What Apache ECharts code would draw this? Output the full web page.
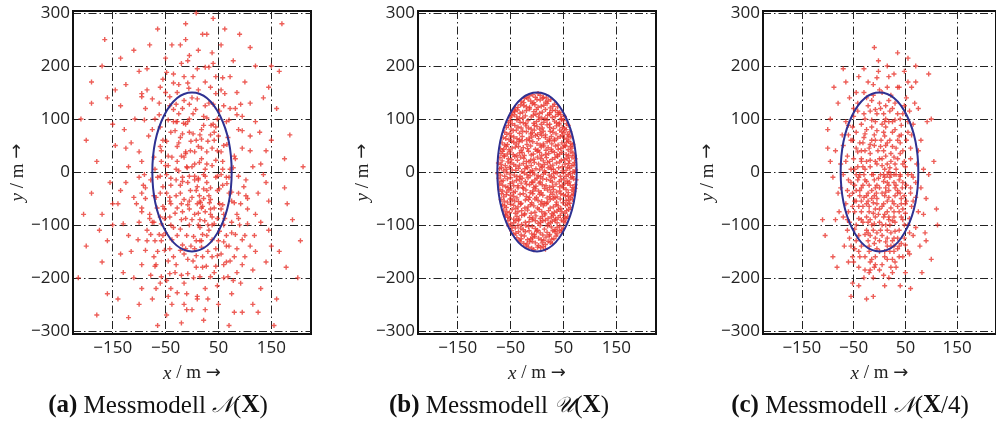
<!DOCTYPE html>
<html>
<head>
<meta charset="utf-8">
<script src="https://cdn.jsdelivr.net/npm/echarts@6/dist/echarts.min.js"></script>
<style>
html, body { margin: 0; padding: 0; background: #fff; }
#echart { width: 996px; height: 430px; }
</style>
</head>
<body>
<div id="echart"></div>
<script>
// tick labels
var xTicks = [-150, -50, 50, 150];
var yTicks = [-300, -200, -100, 0, 100, 200, 300];

// ellipse: centre x, centre y, half axis x, half axis y
var ellipse = [[0, 0, 75, 150]];

// (a) Messmodell N(X)
var pointsA = [
[-12,35],[48,-88],[-95,142],[20,260],[-60,-210],[110,40],[5,-15],[-30,95],[72,180],[-140,-60],
[15,-130],[-8,210],[88,-40],[-45,12],[160,120],[-20,-285],[35,70],[-110,230],[60,-175],[0,140],
[-75,-95],[25,5],[130,-220],[-55,60],[40,290],[-180,20],[10,-60],[95,105],[-35,-160],[65,-10],
[-5,75],[-125,165],[50,-250],[18,45],[-88,-30],[145,-110],[-15,180],[30,-100],[-65,270],[82,25],
[-200,-140],[3,-200],[55,155],[-42,-55],[120,200],[-25,110],[70,-140],[-100,-250],[28,-20],[-150,90],
[12,230],[-70,5],[105,-70],[-10,-120],[45,85],[-130,-190],[22,-280],[90,260],[-50,150],[60,50],
[-18,-10],[175,-30],[-85,195],[38,-160],[-3,40],[115,-250],[-40,-100],[8,300],[-115,55],[75,-95],
[-60,-40],[32,130],[-170,-80],[100,170],[-28,20],[48,-215],[-95,-175],[14,-45],[150,60],[-22,240],
[65,95],[-135,125],[0,-90],[85,-190],[-48,-270],[25,170],[-75,80],[130,15],[-10,-230],[55,-5],
[-190,170],[38,45],[-58,-130],[110,-140],[2,110],[-100,-10],[78,210],[-32,-190],[18,80],[140,-170],
[-45,30],[92,-60],[-8,-165],[60,125],[-120,-120],[28,260],[-68,-220],[5,15],[120,95],[-35,185],
[48,-35],[-155,-20],[15,-105],[80,-265],[-88,120],[35,-70],[-22,65],[165,190],[-60,-85],[10,195],
[-105,-60],[70,-10],[-15,135],[45,-145],[-80,240],[100,-120],[-30,-15],[22,105],[-140,-240],[58,20],
[-5,-55],[125,-40],[-50,215],[30,-240],[-95,20],[85,150],[-20,-90],[12,-15],[190,-90],[-72,-160],
[42,60],[-12,280],[65,-120],[-125,45],[20,-180],[-40,75],[110,235],[-65,-10],[0,-260],[135,-5],
[-30,-45],[52,115],[-160,140],[25,-75],[-85,-110],[75,-230],[-10,10],[95,45],[-48,-205],[38,225],
[-115,-150],[8,60],[60,-80],[-25,165],[150,-140],[-70,100],[18,-130],[-200,60],[88,80],[-38,-250],
[28,15],[-58,40],[115,-185],[-18,-75],[45,180],[-92,-25],[70,-40],[-2,-140],[-135,215],[102,-15],
[-42,125],[15,-55],[62,270],[-78,-195],[32,-110],[-108,100],[8,-35],[175,25],[-55,-65],[40,90],
[-20,30],[90,-100],[-150,-100],[12,155],[-65,-290],[55,-155],[-28,-120],[135,140],[-95,-75],[22,-5],
[-8,95],[78,-205],[-120,10],[48,40],[-38,240],[105,-50],[-72,-45],[2,180],[160,-240],[-30,-175],
[35,-30],[-85,155],[68,65],[-15,-210],[120,-80],[-48,-5],[25,125],[-170,-170],[85,-145],[-5,-100],
[52,-60],[-100,190],[10,-235],[-60,85],[95,-265],[-22,-40],[40,205],[-135,-35],[72,5],[-42,-145],
[18,25],[-80,-80],[128,75],[-12,250],[60,-100],[-110,-200],[30,-150],[-55,175],[145,-55],[-25,55],
[82,120],[-190,-40],[5,-80],[-45,-235],[58,-25],[-18,120],[100,-160],[-70,-130],[35,160],[-128,80],
[42,-190],[-8,-20],[115,10],[-62,130],[20,-65],[-95,-220],[75,-55],[-35,95],[150,200],[-15,-155],
[48,100],[-78,-15],[8,-180],[92,-210],[-52,-70],[25,-260],[-145,155],[65,-170],[-30,5],[110,130],
[-5,220],[-88,-50],[38,-85],[-120,-275],[80,30],[-20,-60],[55,240],[-68,-175],[15,70],[130,-95],
[-40,-25],[70,-290],[-160,-130],[28,-120],[-12,90],[95,-175],[-58,20],[5,-145],[-100,-95],[60,-200],
[-28,150],[118,-120],[-75,-240],[45,-10],[-10,-260],[85,-80],[-50,-115],[32,-45],[-135,-155],[178,-180],
[12,-100],[-65,-150],[50,-130],[-20,-195],[140,-20],[-90,-5],[25,-220],[-42,-85],[75,-115],[-5,-70],
[-3,-35],[18,62],[-40,-12],[33,-58],[7,118],[-58,-98],[45,22],[-22,-148],[62,148],[-9,8],
[27,-178],[-72,28],[52,-112],[-16,92],[88,-8],[-35,168],[12,-78],[-48,58],[70,98],[3,-122],
[-28,-68],[40,128],[-88,-148],[22,-32],[-6,158],[58,-62],[-62,108],[14,18],[-42,-192],[95,-128],
[-18,-18],[36,88],[-100,38],[8,-158],[66,-22],[-30,128],[24,-92],[-55,-28],[110,68],[-12,-88],
[48,-8],[-78,-118],[2,72],[32,198],[-45,98],[80,-58],[-8,-192],[18,-142],[-66,-68],[55,38],
[-25,2],[92,128],[-38,-128],[12,48],[-95,148],[42,-68],[-5,128],[68,-198],[-52,-148],[28,102],
[-15,-52],[78,8],[-82,68],[5,-8],[45,-178],[-32,78],[105,-98],[-60,-8],[16,-58],[-20,205],
[38,-128],[-110,-48],[62,-88],[-2,58],[-42,-48],[25,-8],[85,108],[-70,-178],[10,138],[50,68],
[-28,48],[-130,-98],[35,-198],[-12,38],[72,-168],[-48,188],[20,-118],[-90,98],[0,-48],[58,178],
[-38,28],[15,-198],[98,-28],[-62,-118],[30,58],[-18,-138],[120,-150],[-75,138],[42,-98],[-5,-8],
[66,52],[-52,-88],[22,88],[-95,-68],[10,-28],[-35,118],[48,-158],[-22,-108],[82,-118],[-8,168],
[-58,-198],[38,12],[-125,-20],[18,-68],[-42,142],[75,-38],[2,-168],[-68,-48],[28,38],[-18,72],
[52,-32],[-102,-128],[12,-12],[-32,-78],[95,78],[-50,12],[35,-52],[-8,-62],[60,-132],[-80,-88],
[25,198],[-28,-228],[5,38],[-45,-168],[88,-88],[-15,28],[45,148],[-60,48],[140,40],[-150,-60],
[20,-160],[-5,100],[35,-80],[-40,-60],[72,120],[-22,-25],[10,-240],[-85,-130],[55,-70],[-12,-145],
[-35,-105],[28,-35],[-60,160],[80,-160],[0,10],[-48,-40],[42,75],[-28,95],[15,-90],[-72,-95],
[58,5],[-15,-250],[38,-100],[-95,-40],[8,-130],[102,-45],[-55,-120],[22,-50],[-40,-220],[65,-140],
[-175,-110],[185,70],[-210,100],[200,-200],[-165,250],[170,280],[-180,-270],[155,-290],[205,-130],[-215,-200],
[125,-265],[-145,50],[180,-60],[-190,130],[145,160],[-160,-230],[210,10],[-205,-80],[165,-150],[-170,200]
];

// (b) Messmodell U(X)
var pointsB = [
[-71,6],[-63,2],[-52,9],[-47,4],[-35,7],[-29,1],[-18,8],[-9,3],[-2,6],[10,9],[14,2],[27,5],[35,0],[41,8],[55,3],[62,7],[73,4],
[-73,17],[-60,12],[-55,19],[-44,14],[-40,11],[-26,16],[-15,19],[-11,12],[3,15],[8,11],[20,18],[30,13],[37,17],[48,10],[53,15],[66,12],[71,18],
[-70,27],[-66,21],[-54,25],[-42,29],[-37,22],[-25,26],[-20,20],[-6,24],[1,28],[12,21],[18,27],[29,24],[39,29],[46,22],[57,26],[61,21],[72,25],
[-68,35],[-62,31],[-51,38],[-45,33],[-33,36],[-24,31],[-16,39],[-7,34],[5,37],[9,31],[22,35],[28,39],[38,32],[47,37],[55,33],[64,38],[71,31],
[-69,44],[-58,48],[-53,42],[-41,47],[-30,41],[-26,46],[-12,49],[-3,43],[8,47],[17,41],[21,46],[35,49],[40,43],[50,47],[59,42],[66,45],
[-66,55],[-61,51],[-48,58],[-39,53],[-34,57],[-19,52],[-14,59],[0,54],[6,51],[19,57],[28,53],[33,59],[47,55],[52,50],[60,58],[68,52],
[-64,65],[-53,61],[-49,68],[-38,63],[-28,67],[-20,61],[-10,66],[3,63],[9,69],[23,62],[27,67],[39,64],[48,69],[57,62],[64,66],
[-61,75],[-57,71],[-45,78],[-33,73],[-27,77],[-12,72],[-5,79],[7,74],[16,70],[25,77],[36,72],[43,79],[51,74],[58,71],[62,76],
[-58,84],[-49,81],[-42,88],[-30,83],[-21,87],[-11,81],[0,86],[10,83],[19,89],[31,82],[37,87],[48,84],[55,80],[59,88],
[-54,94],[-47,91],[-38,98],[-26,93],[-17,97],[-6,92],[4,99],[13,94],[24,90],[33,96],[42,92],[50,97],[56,91],
[-51,103],[-43,108],[-33,101],[-22,106],[-11,104],[-2,109],[9,102],[20,107],[29,103],[40,109],[46,101],[52,105],
[-47,112],[-37,117],[-27,113],[-14,119],[-6,114],[5,111],[16,118],[24,112],[35,116],[43,113],[-42,114],
[-41,121],[-31,127],[-20,123],[-9,129],[2,122],[13,126],[25,121],[33,128],[39,123],
[-29,133],[-17,138],[-6,131],[6,136],[16,132],[26,137],[-24,139],
[-14,144],[2,148],[12,141],[-3,141],
[-74,-3],[-61,-8],[-57,-1],[-43,-6],[-38,-9],[-24,-2],[-13,-7],[-5,-4],[7,-9],[16,-1],[23,-6],[31,-3],[44,-8],[50,-2],[59,-5],[67,-9],[71,-1],
[-72,-12],[-64,-16],[-50,-11],[-46,-19],[-33,-14],[-22,-18],[-17,-11],[-4,-15],[6,-19],[11,-13],[25,-16],[33,-11],[42,-18],[51,-13],[57,-17],[64,-11],[74,-15],
[-71,-23],[-59,-28],[-51,-22],[-44,-26],[-30,-21],[-27,-29],[-14,-24],[-2,-27],[4,-21],[17,-26],[24,-29],[36,-23],[43,-28],[53,-21],[63,-25],[68,-29],[-8,-20],
[-70,-33],[-57,-38],[-49,-32],[-41,-37],[-36,-30],[-21,-34],[-13,-39],[-3,-32],[3,-36],[14,-31],[26,-38],[31,-33],[43,-36],[50,-30],[59,-39],[66,-34],[72,-31],
[-67,-41],[-63,-47],[-50,-44],[-38,-49],[-32,-42],[-20,-46],[-8,-41],[-1,-48],[11,-44],[19,-49],[30,-42],[38,-47],[45,-41],[54,-45],[63,-49],[69,-42],
[-68,-52],[-56,-57],[-51,-51],[-42,-55],[-30,-59],[-22,-53],[-10,-58],[-4,-51],[9,-56],[14,-59],[25,-52],[37,-57],[44,-51],[55,-54],[62,-59],[67,-52],
[-65,-62],[-58,-67],[-44,-63],[-40,-69],[-31,-61],[-17,-66],[-12,-62],[1,-68],[12,-64],[18,-60],[31,-66],[36,-62],[45,-69],[54,-63],[63,-67],
[-63,-72],[-52,-77],[-47,-71],[-36,-75],[-23,-79],[-18,-72],[-4,-76],[4,-71],[15,-78],[22,-73],[33,-76],[41,-71],[53,-78],[56,-73],[-60,-80],
[-59,-82],[-52,-87],[-38,-84],[-34,-89],[-24,-81],[-14,-86],[-2,-83],[6,-88],[15,-81],[27,-85],[35,-89],[44,-82],[52,-86],[58,-84],
[-55,-92],[-44,-96],[-35,-91],[-29,-99],[-15,-94],[-9,-90],[2,-97],[11,-92],[21,-98],[29,-93],[38,-96],[46,-91],[53,-95],
[-53,-102],[-41,-106],[-36,-101],[-26,-109],[-16,-103],[-3,-107],[6,-101],[14,-108],[27,-104],[34,-109],[43,-102],[50,-106],
[-48,-111],[-40,-116],[-30,-119],[-22,-113],[-10,-117],[-1,-112],[11,-119],[19,-114],[30,-111],[38,-117],[46,-114],
[-38,-124],[-34,-129],[-24,-121],[-12,-126],[-4,-122],[8,-128],[17,-123],[28,-127],[36,-121],
[-31,-132],[-19,-136],[-9,-131],[3,-139],[10,-134],[21,-131],[29,-135],
[-16,-142],[-6,-147],[7,-143],[16,-146],
[-67,8],[-58,5],[-40,3],[-23,6],[-13,1],[5,4],[21,8],[31,5],[48,2],[58,9],[68,1],
[-68,14],[-50,17],[-33,13],[-20,11],[-5,18],[14,14],[25,11],[43,19],[60,16],[70,13],
[-62,29],[-48,23],[-31,28],[-12,22],[7,25],[24,20],[34,27],[52,23],[66,28],
[-65,39],[-56,34],[-38,31],[-28,37],[-11,32],[0,39],[16,33],[33,37],[43,34],[60,31],[68,36],
[-63,43],[-47,45],[-35,48],[-18,44],[2,41],[13,49],[27,43],[45,44],[54,49],[63,48],
[-56,52],[-44,56],[-28,59],[-8,57],[12,53],[24,59],[40,51],[56,56],[64,54],
[-59,63],[-44,66],[-33,61],[-15,64],[-3,69],[16,65],[33,62],[44,67],[52,64],[60,68],
[-51,73],[-39,79],[-20,76],[1,71],[12,77],[30,75],[47,76],[-9,74],
[-54,88],[-36,85],[-16,83],[-5,88],[5,81],[24,84],[42,89],[52,82],
[-50,97],[-32,94],[-21,91],[-1,95],[8,90],[19,98],[37,93],[46,99],
[-48,106],[-38,104],[-27,102],[-7,107],[3,104],[15,101],[24,109],[35,105],[45,108],
[-43,116],[-32,111],[-20,116],[-1,118],[10,113],[29,116],[40,112],
[-36,122],[-25,125],[-14,122],[-4,127],[8,124],[19,129],[30,124],
[-25,131],[-12,134],[0,137],[11,139],[21,134],
[-8,146],[6,145],[-20,141],[18,140],
[-69,-6],[-51,-4],[-32,-8],[-19,-5],[-8,-1],[2,-7],[12,-4],[27,-9],[38,-2],[55,-8],[63,-3],
[-68,-18],[-56,-13],[-39,-16],[-28,-12],[-10,-19],[0,-12],[18,-14],[29,-19],[46,-15],[61,-19],[69,-13],
[-65,-25],[-55,-29],[-36,-26],[-20,-23],[-6,-29],[10,-24],[30,-27],[48,-25],[58,-22],[72,-24],
[-65,-36],[-53,-34],[-45,-39],[-26,-31],[-8,-36],[8,-39],[20,-34],[37,-38],[55,-33],[70,-37],
[-58,-43],[-44,-46],[-26,-41],[-14,-48],[5,-42],[24,-46],[34,-48],[50,-43],[59,-46],[66,-44],
[-62,-55],[-47,-53],[-35,-56],[-16,-52],[2,-54],[20,-57],[31,-50],[49,-58],[60,-53],
[-61,-64],[-50,-61],[-36,-66],[-23,-68],[-6,-64],[7,-61],[25,-68],[40,-64],[58,-61],
[-57,-75],[-41,-78],[-29,-73],[-11,-78],[9,-75],[28,-79],[38,-74],[47,-75],[60,-71],
[-55,-85],[-44,-89],[-29,-82],[-8,-87],[10,-84],[21,-88],[31,-82],[40,-86],[55,-88],
[-50,-98],[-40,-92],[-22,-95],[-3,-92],[7,-95],[16,-91],[25,-96],[34,-91],[50,-93],
[-47,-104],[-31,-106],[-21,-101],[-9,-103],[1,-110],[20,-102],[38,-105],[47,-109],
[-44,-118],[-35,-113],[-15,-111],[-5,-118],[6,-115],[24,-118],[34,-113],[42,-111],
[-30,-126],[-18,-128],[-8,-124],[3,-125],[13,-129],[23,-121],[32,-126],
[-25,-135],[-14,-132],[-3,-134],[16,-137],[25,-133],
[-10,-144],[1,-142],[12,-141],[-21,-140]
];

// (c) Messmodell N(X/4)
var pointsC = [
[5,12],[-20,45],[30,-30],[-8,-70],[42,88],[15,-5],[-35,20],[60,-40],[0,130],[-12,-110],
[22,35],[-48,-55],[10,-150],[-28,100],[50,10],[-5,-25],[35,160],[-60,-15],[18,-85],[-15,60],
[75,40],[-40,-120],[8,75],[-22,-40],[28,-140],[-52,85],[45,-70],[2,-5],[-70,50],[20,115],
[-10,-180],[55,-100],[-30,-5],[12,30],[-45,150],[38,-15],[-18,-90],[65,90],[-2,190],[25,-55],
[-58,-95],[15,55],[-35,-30],[48,125],[-8,20],[32,-180],[-25,140],[70,-20],[5,-120],[-42,10],
[20,-10],[-15,85],[40,55],[-65,-60],[10,-45],[-28,-160],[55,170],[-3,40],[30,-95],[-50,120],
[85,5],[-20,-65],[12,100],[-38,-5],[42,-135],[-10,-15],[25,75],[-75,-30],[0,-95],[62,-65],
[-32,55],[18,-200],[-55,-140],[35,25],[-12,165],[48,-45],[-25,-110],[8,-60],[-45,75],[68,130],
[-6,-40],[28,-5],[-62,30],[15,-165],[-18,115],[52,60],[-35,-75],[3,60],[38,-110],[-85,-90],
[22,145],[-48,-25],[10,5],[-22,-130],[58,-155],[-8,95],[32,45],[-40,-180],[75,-75],[0,25],
[-28,40],[45,-20],[-15,-50],[18,180],[-58,140],[28,-60],[-5,-145],[40,100],[-70,-5],[12,-30],
[-32,-95],[60,25],[-18,10],[22,-115],[-45,45],[5,150],[35,-40],[-52,-160],[90,-50],[-10,70],
[15,-75],[-38,-45],[50,-190],[-22,170],[30,15],[-65,95],[2,-110],[42,70],[-28,-15],[18,-25],
[-12,-200],[55,-5],[-42,115],[8,-85],[-80,-40],[25,95],[-5,-60],[38,-160],[-55,5],[65,-120],
[-18,35],[12,125],[-35,-140],[45,40],[0,-30],[-25,80],[28,-85],[-48,-75],[72,15],[-8,-125],
[20,60],[-30,-200],[35,-65],[-62,-110],[10,-10],[-15,135],[55,95],[-40,-10],[25,-130],[-2,210],
[-72,70],[42,-85],[-20,-25],[15,-55],[-50,25],[60,-30],[-10,50],[30,130],[-35,-55],[5,-175],
[48,-125],[-25,-85],[18,0],[-58,-45],[38,160],[-12,-5],[80,60],[-45,-100],[22,20],[-5,110],
[32,-25],[-68,-140],[8,40],[-30,65],[52,-55],[-15,-165],[25,-165],[-40,180],[65,-10],[0,-70],
[-22,-55],[40,-5],[-52,60],[12,85],[-8,-85],[58,115],[-35,25],[20,-100],[-75,15],[30,-45],
[-18,-120],[45,15],[-60,-75],[5,90],[35,-125],[-28,5],[15,-140],[-45,-35],[70,-105],[-5,15],
[100,-165],[-110,-90],[-55,-235],[40,-215],[-10,235],[55,215],[95,185],[-100,80],[85,-80],[-90,-10],
[78,-140],[-85,40],[105,20],[-95,100],[92,95],[-30,195],[-40,-215],[28,185],[-20,-190],[62,160],
[10,-215],[-65,170],[48,190],[-78,-75],[80,-30],[-12,-235],[15,200],[-60,-170],[70,170],[88,-115],
[8,-18],[-18,22],[25,48],[-30,-48],[12,-132],[-5,78],[40,-8],[-25,-18],[2,48],[18,-48],
[-42,38],[30,98],[-10,-98],[50,-78],[-35,90],[15,15],[-55,-20],[22,-68],[-8,118],[35,-145],
[-20,-75],[5,-40],[45,110],[-48,5],[28,28],[-12,-58],[60,45],[-28,-118],[10,68],[-40,-88],
[20,-150],[-2,-12],[38,68],[-60,88],[15,-110],[-22,125],[52,-25],[-15,-35],[28,-20],[-45,-130],
[0,155],[42,-50],[-32,-25],[10,95],[-55,60],[25,-92],[-8,-160],[65,-55],[-18,52],[5,-65],
[32,5],[-40,-150],[18,135],[-25,20],[48,-100],[-10,-45],[-62,-35],[22,-180],[-5,178],[40,35],
[-30,150],[12,-38],[-48,-108],[55,75],[-15,98],[30,-112],[0,-185],[-38,55],[20,8],[-22,-95],
[70,-48],[-52,-65],[8,110],[35,-35],[-18,-170],[45,-160],[-35,-90],[-8,-30],[25,120],[-65,20],
[15,-20],[-28,72],[50,-138],[-42,-15],[5,-100],[30,80],[-12,145],[58,-88],[-20,-140],[38,-75],
[-5,-115],[22,-5],[-50,105],[12,50],[-32,-65],[62,-5],[0,-150],[-45,-5],[28,-150],[-15,-5],
[42,-60],[-25,-45],[10,-80],[-58,-125],[35,60],[-8,-175],[18,95],[-38,-35],[48,20],[-2,-80],
[25,-190],[-60,70],[15,-125],[-30,110],[52,140],[-12,-78],[32,-5],[-48,-145],[8,-195],[-22,-115],
[40,-40],[-70,-85],[2,120],[28,-75],[-35,40],[18,-35],[-15,-100],[58,-115],[-42,130],[10,-160],
[-5,-50],[45,-90],[-25,-60],[30,-170],[-52,-40],[5,25],[38,-140],[-18,-185],[62,70],[-32,10],
[15,160],[-40,-65],[22,-140],[-8,60],[50,-60],[-28,-185],[12,-100],[-62,-90],[35,110],[0,-130],
[-20,-150],[44,-30],[-50,-170],[8,-5],[28,-125],[-38,-160],[18,-90],[-10,-135],[55,-150],[-45,-55],
[90,-130],[-90,-160],[75,120],[-80,130],[95,-5],[-100,45],[70,200],[-52,-210],[82,-190],[-70,195],
[110,-70],[-105,-120],[60,-220],[-25,-240],[35,225],[-82,-180],[100,100],[-95,20],[112,-100],[-88,160]
];

var captions = [
    '{b|(a)} Messmodell {s|𝒩}({b|X})',
    '{b|(b)} Messmodell {s|𝒰}({b|X})',
    '{b|(c)} Messmodell {s|𝒩}({b|X}/4)'
];

var myChart = echarts.init(document.getElementById('echart'));

var panelLeft = [73, 418, 763];
var captionX = [158, 499, 850];
var serif = 'Liberation Serif';
var plus = 'path://M1.8,0H3.2V1.8H5V3.2H3.2V5H1.8V3.2H0V1.8H1.8Z';
var allPoints = [pointsA, pointsB, pointsC];

var grids = [], xAxes = [], yAxes = [], series = [], graphics = [];
var minus = function (v) { return String(v).replace('-', '\u2212'); };
var gridLine = { show: true, lineStyle: { color: '#222', width: 1, type: [8, 3, 1.5, 3] } };
var nameStyle = {
    fontFamily: serif, fontSize: 19, color: '#222',
    rich: {
        i: { fontFamily: serif, fontSize: 19, fontStyle: 'italic', color: '#222' },
        a: { fontFamily: 'DejaVu Sans', fontSize: 18, color: '#222' }
    }
};

for (var i = 0; i < 3; i++) {
    grids.push({
        left: panelLeft[i], top: 11, width: 238, height: 323,
        show: true, borderColor: '#111', borderWidth: 2
    });
    xAxes.push({
        gridIndex: i, type: 'value', min: -225, max: 225,
        axisLine: { onZero: false, lineStyle: { color: '#111', width: 2 } },
        axisTick: { show: false, customValues: xTicks },
        axisLabel: { customValues: xTicks, formatter: minus, margin: 6,
            fontFamily: 'Open Sans', fontSize: 17, color: '#222' },
        splitLine: gridLine,
        name: '{i|x} / m {a|\u2192}', nameLocation: 'middle', nameGap: 30,
        nameTextStyle: nameStyle
    });
    yAxes.push({
        gridIndex: i, type: 'value', min: -306, max: 304,
        axisLine: { onZero: false, lineStyle: { color: '#111', width: 2 } },
        axisTick: { show: false, customValues: yTicks },
        axisLabel: { customValues: yTicks, formatter: minus, margin: 3,
            fontFamily: 'Open Sans', fontSize: 17, color: '#222' },
        splitLine: gridLine,
        name: '{i|y} / m {a|\u2192}', nameLocation: 'middle', nameGap: 44,
        nameTextStyle: nameStyle
    });
    series.push({
        type: 'scatter', xAxisIndex: i, yAxisIndex: i,
        data: allPoints[i], symbol: plus, symbolSize: 5,
        itemStyle: { color: '#e8362e' }, silent: true
    });
    series.push({
        type: 'custom', xAxisIndex: i, yAxisIndex: i, z: 5, silent: true,
        data: ellipse,
        renderItem: function (params, api) {
            var c = api.coord([api.value(0), api.value(1)]);
            var s = api.size([api.value(2), api.value(3)]);
            return {
                type: 'ellipse',
                shape: { cx: c[0], cy: c[1], rx: s[0], ry: s[1] },
                style: { fill: 'none', stroke: '#2e3192', lineWidth: 2 }
            };
        }
    });
    graphics.push({
        type: 'text', x: captionX[i], y: 406,
        style: {
            text: captions[i], align: 'center', verticalAlign: 'middle',
            fontFamily: serif, fontSize: 25, fill: '#111',
            rich: {
                b: { fontFamily: serif, fontSize: 25, fontWeight: 'bold', fill: '#111' },
                s: { fontFamily: 'DejaVu Serif', fontSize: 22, fontStyle: 'italic', fill: '#111' }
            }
        }
    });
}

option = {
    animation: false,
    grid: grids,
    xAxis: xAxes,
    yAxis: yAxes,
    series: series,
    graphic: graphics
};
myChart.setOption(option);
</script>
</body>
</html>
